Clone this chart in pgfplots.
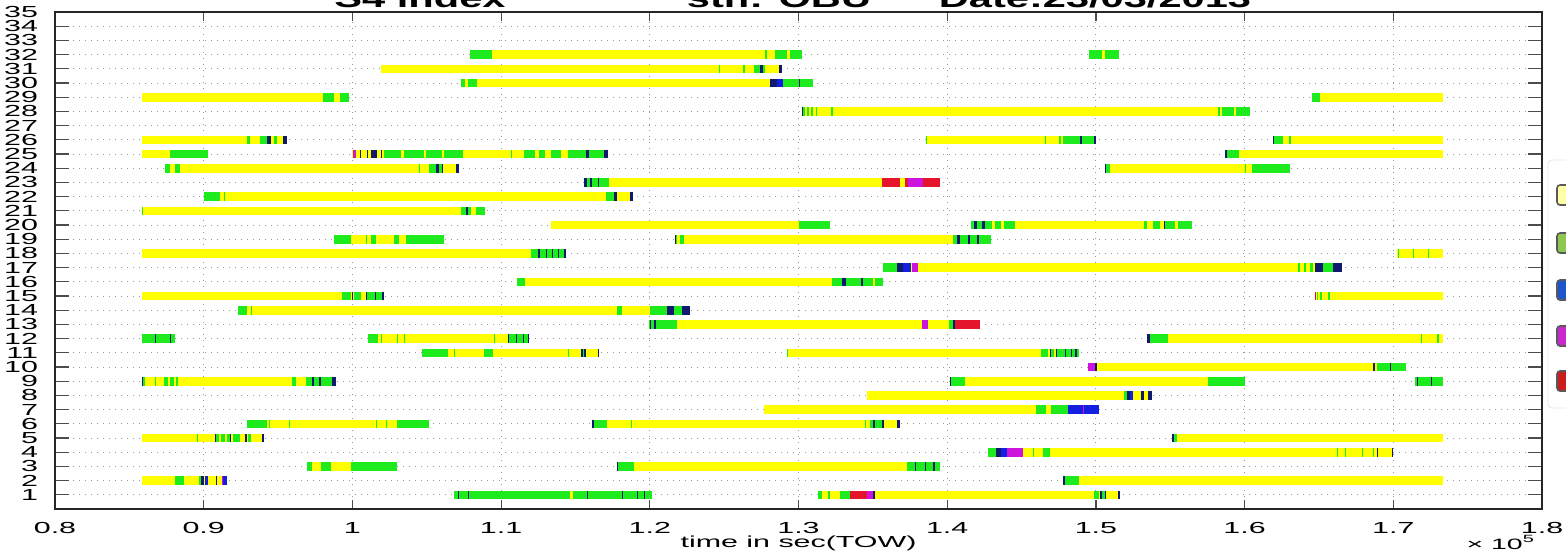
\documentclass[border=0pt]{standalone}
\usepackage{pgfplots}
\pgfplotsset{compat=1.18}
\usepackage{fontspec}
\setmainfont{Liberation Sans}
\newfontfamily\lbl{Liberation Sans}[FakeStretch=1.9]
\newfontfamily\ttl{Liberation Sans}[FakeStretch=1.6]
\definecolor{cY}{RGB}{255,255,0}
\definecolor{cG}{RGB}{30,235,30}
\definecolor{cN}{RGB}{15,25,110}
\definecolor{cB}{RGB}{20,30,225}
\definecolor{cM}{RGB}{205,20,220}
\definecolor{cR}{RGB}{228,20,45}
\definecolor{lgY}{RGB}{255,255,165}
\definecolor{lgG}{RGB}{140,200,80}
\definecolor{lgB}{RGB}{30,85,205}
\definecolor{lgM}{RGB}{200,40,205}
\definecolor{lgR}{RGB}{200,30,30}
\pgfplotsset{seg/.style={no markers, line width=4.3pt, unbounded coords=jump, line cap=butt}}
\begin{document}
\begin{tikzpicture}
\begin{axis}[
  scale only axis, width=743.5pt, height=248.5pt,
  xmin=0.8, xmax=1.8, ymin=0, ymax=35,
  xtick={0.8,0.9,1,1.1,1.2,1.3,1.4,1.5,1.6,1.7,1.8},
  ytick={1,2,...,35},
  grid=major, grid style={dash pattern=on 0.7pt off 2.3pt, gray!80, line width=0.5pt},
  tick align=inside, major tick length=7pt,
  xtick style={/pgfplots/major tick length=4.5pt},
  axis line style={line width=0.6pt, black!85},
  tick style={line width=0.6pt, black!70},
  /pgf/number format/assume math mode=true,
  ticklabel style={font=\lbl\fontsize{8}{9}\selectfont},
  xticklabel style={anchor=base, yshift=-12pt},
  yticklabel style={xshift=-5pt},
  xlabel={time in sec(TOW)},
  xlabel style={at={(axis description cs:0.5,0)}, anchor=base, yshift=-19pt, font=\lbl\fontsize{8}{10}\selectfont},
]
% yellow base
\addplot[seg, cY] coordinates {
(1.0793,32)(1.3022,32)(nan,nan)(1.4951,32)(1.5152,32)(nan,nan)
(1.0190,31)(1.2888,31)(nan,nan)
(1.0730,30)(1.3100,30)(nan,nan)
(0.8584,29)(0.9978,29)(nan,nan)(1.6450,29)(1.7336,29)(nan,nan)
(1.3022,28)(1.6037,28)(nan,nan)
(0.8584,26)(0.9560,26)(nan,nan)(1.3860,26)(1.5000,26)(nan,nan)(1.6194,26)(1.7336,26)(nan,nan)
(0.8584,25)(0.9027,25)(nan,nan)(1.0000,25)(1.1718,25)(nan,nan)(1.5870,25)(1.7336,25)(nan,nan)
(0.8740,24)(1.0720,24)(nan,nan)(1.5063,24)(1.6306,24)(nan,nan)
(1.1560,23)(1.3950,23)(nan,nan)
(0.9000,22)(1.1890,22)(nan,nan)
(0.8584,21)(1.0890,21)(nan,nan)
(1.1337,20)(1.3213,20)(nan,nan)(1.4163,20)(1.5645,20)(nan,nan)
(0.9876,19)(1.0618,19)(nan,nan)(1.2172,19)(1.4297,19)(nan,nan)
(0.8584,18)(1.1438,18)(nan,nan)(1.7022,18)(1.7336,18)(nan,nan)
(1.3570,17)(1.6653,17)(nan,nan)
(1.1106,16)(1.3570,16)(nan,nan)
(0.8584,15)(1.0213,15)(nan,nan)(1.6474,15)(1.7336,15)(nan,nan)
(0.9232,14)(1.2273,14)(nan,nan)
(1.1993,13)(1.4219,13)(nan,nan)
(0.8584,12)(0.8809,12)(nan,nan)(1.0108,12)(1.1190,12)(nan,nan)(1.5343,12)(1.7336,12)(nan,nan)
(1.0470,11)(1.1660,11)(nan,nan)(1.2922,11)(1.4883,11)(nan,nan)
(1.4950,10)(1.7088,10)(nan,nan)
(0.8584,9)(0.9888,9)(nan,nan)(1.4018,9)(1.6003,9)(nan,nan)(1.7146,9)(1.7336,9)(nan,nan)
(1.3459,8)(1.5376,8)(nan,nan)
(1.2765,7)(1.5018,7)(nan,nan)
(0.9292,6)(1.0517,6)(nan,nan)(1.1613,6)(1.3680,6)(nan,nan)
(0.8584,5)(0.9404,5)(nan,nan)(1.5510,5)(1.7336,5)(nan,nan)
(1.4275,4)(1.7000,4)(nan,nan)
(0.9697,3)(1.0303,3)(nan,nan)(1.1780,3)(1.3950,3)(nan,nan)
(0.8584,2)(0.9160,2)(nan,nan)(1.4780,2)(1.7336,2)(nan,nan)
(1.0685,1)(1.2016,1)(nan,nan)(1.3134,1)(1.5163,1)
};
% green
\addplot[seg, cG] coordinates {
(1.0793,32)(1.0937,32)(nan,nan)(1.2776,32)(1.2785,32)(nan,nan)(1.2843,32)(1.2922,32)(nan,nan)(1.2944,32)(1.3022,32)(nan,nan)(1.4951,32)(1.5040,32)(nan,nan)(1.5063,32)(1.5152,32)(nan,nan)
(1.2463,31)(1.2470,31)(nan,nan)(1.2630,31)(1.2637,31)(nan,nan)(1.2698,31)(1.2743,31)(nan,nan)(1.2760,31)(1.2772,31)(nan,nan)
(1.0730,30)(1.0760,30)(nan,nan)(1.0775,30)(1.0840,30)(nan,nan)(1.2899,30)(1.3100,30)(nan,nan)
(0.9802,29)(0.9874,29)(nan,nan)(0.9919,29)(0.9978,29)(nan,nan)(1.6450,29)(1.6506,29)(nan,nan)
(1.3028,28)(1.3045,28)(nan,nan)(1.3055,28)(1.3070,28)(nan,nan)(1.3085,28)(1.3100,28)(nan,nan)(1.3115,28)(1.3125,28)(nan,nan)(1.3220,28)(1.3235,28)(nan,nan)(1.5824,28)(1.5835,28)(nan,nan)(1.5850,28)(1.5930,28)(nan,nan)(1.5945,28)(1.6037,28)(nan,nan)
(0.9292,26)(0.9310,26)(nan,nan)(0.9380,26)(0.9427,26)(nan,nan)(0.9470,26)(0.9490,26)(nan,nan)(1.3860,26)(1.3867,26)(nan,nan)(1.4655,26)(1.4662,26)(nan,nan)(1.4755,26)(1.4762,26)(nan,nan)(1.4780,26)(1.5000,26)(nan,nan)(1.6200,26)(1.6260,26)(nan,nan)(1.6300,26)(1.6315,26)(nan,nan)
(0.8775,25)(0.9027,25)(nan,nan)(1.0213,25)(1.0330,25)(nan,nan)(1.0345,25)(1.0480,25)(nan,nan)(1.0495,25)(1.0600,25)(nan,nan)(1.0615,25)(1.0742,25)(nan,nan)(1.1067,25)(1.1072,25)(nan,nan)(1.1157,25)(1.1225,25)(nan,nan)(1.1258,25)(1.1292,25)(nan,nan)(1.1337,25)(1.1405,25)(nan,nan)(1.1449,25)(1.1718,25)(nan,nan)(1.5880,25)(1.5960,25)(nan,nan)
(0.8740,24)(0.8775,24)(nan,nan)(0.8809,24)(0.8843,24)(nan,nan)(1.0450,24)(1.0456,24)(nan,nan)(1.0517,24)(1.0562,24)(nan,nan)(1.0580,24)(1.0600,24)(nan,nan)(1.5070,24)(1.5095,24)(nan,nan)(1.6003,24)(1.6008,24)(nan,nan)(1.6048,24)(1.6306,24)(nan,nan)
(1.1575,23)(1.1600,23)(nan,nan)(1.1610,23)(1.1650,23)(nan,nan)(1.1660,23)(1.1725,23)(nan,nan)
(0.9000,22)(0.9112,22)(nan,nan)(0.9135,22)(0.9140,22)(nan,nan)(1.1703,22)(1.1758,22)(nan,nan)
(0.8584,21)(0.8590,21)(nan,nan)(1.0730,21)(1.0764,21)(nan,nan)(1.0775,21)(1.0798,21)(nan,nan)(1.0832,21)(1.0890,21)(nan,nan)
(1.3000,20)(1.3213,20)(nan,nan)(1.4163,20)(1.4180,20)(nan,nan)(1.4200,20)(1.4235,20)(nan,nan)(1.4255,20)(1.4300,20)(nan,nan)(1.4320,20)(1.4360,20)(nan,nan)(1.4380,20)(1.4454,20)(nan,nan)(1.5320,20)(1.5343,20)(nan,nan)(1.5387,20)(1.5432,20)(nan,nan)(1.5460,20)(1.5533,20)(nan,nan)(1.5555,20)(1.5645,20)(nan,nan)
(0.9876,19)(0.9989,19)(nan,nan)(1.0090,19)(1.0101,19)(nan,nan)(1.0124,19)(1.0157,19)(nan,nan)(1.0281,19)(1.0315,19)(nan,nan)(1.0360,19)(1.0618,19)(nan,nan)(1.2178,19)(1.2185,19)(nan,nan)(1.2205,19)(1.2228,19)(nan,nan)(1.4040,19)(1.4068,19)(nan,nan)(1.4085,19)(1.4138,19)(nan,nan)(1.4152,19)(1.4198,19)(nan,nan)(1.4212,19)(1.4297,19)(nan,nan)
(1.1200,18)(1.1438,18)(nan,nan)(1.7033,18)(1.7040,18)(nan,nan)(1.7133,18)(1.7140,18)(nan,nan)(1.7233,18)(1.7240,18)(nan,nan)
(1.3570,17)(1.3660,17)(nan,nan)(1.6362,17)(1.6372,17)(nan,nan)(1.6400,17)(1.6415,17)(nan,nan)(1.6440,17)(1.6462,17)(nan,nan)(1.6530,17)(1.6597,17)(nan,nan)
(1.1106,16)(1.1162,16)(nan,nan)(1.3224,16)(1.3290,16)(nan,nan)(1.3320,16)(1.3420,16)(nan,nan)(1.3435,16)(1.3500,16)(nan,nan)(1.3515,16)(1.3570,16)(nan,nan)
(0.9933,15)(0.9989,15)(nan,nan)(1.0011,15)(1.0056,15)(nan,nan)(1.0100,15)(1.0150,15)(nan,nan)(1.0160,15)(1.0200,15)(nan,nan)(1.6485,15)(1.6495,15)(nan,nan)(1.6510,15)(1.6520,15)(nan,nan)(1.6560,15)(1.6575,15)(nan,nan)
(0.9232,14)(0.9292,14)(nan,nan)(0.9315,14)(0.9320,14)(nan,nan)(1.1781,14)(1.1815,14)(nan,nan)(1.2000,14)(1.2116,14)(nan,nan)(1.2161,14)(1.2217,14)(nan,nan)
(1.1993,13)(1.2003,13)(nan,nan)(1.2010,13)(1.2030,13)(nan,nan)(1.2040,13)(1.2180,13)(nan,nan)(1.4015,13)(1.4037,13)(nan,nan)
(0.8584,12)(0.8674,12)(nan,nan)(0.8680,12)(0.8775,12)(nan,nan)(0.8780,12)(0.8809,12)(nan,nan)(1.0108,12)(1.0169,12)(nan,nan)(1.0191,12)(1.0196,12)(nan,nan)(1.0303,12)(1.0308,12)(nan,nan)(1.0348,12)(1.0353,12)(nan,nan)(1.0955,12)(1.0960,12)(nan,nan)(1.1050,12)(1.1100,12)(nan,nan)(1.1105,12)(1.1150,12)(nan,nan)(1.1155,12)(1.1180,12)(nan,nan)(1.5365,12)(1.5488,12)(nan,nan)(1.7186,12)(1.7193,12)(nan,nan)(1.7297,12)(1.7304,12)(nan,nan)
(1.0470,11)(1.0640,11)(nan,nan)(1.0685,11)(1.0690,11)(nan,nan)(1.0888,11)(1.0944,11)(nan,nan)(1.1452,11)(1.1457,11)(nan,nan)(1.1550,11)(1.1560,11)(nan,nan)(1.2922,11)(1.2930,11)(nan,nan)(1.4633,11)(1.4678,11)(nan,nan)(1.4700,11)(1.4720,11)(nan,nan)(1.4740,11)(1.4790,11)(nan,nan)(1.4800,11)(1.4830,11)(nan,nan)(1.4840,11)(1.4860,11)(nan,nan)(1.4870,11)(1.4883,11)(nan,nan)
(1.6888,10)(1.6977,10)(nan,nan)(1.6985,10)(1.7088,10)(nan,nan)
(0.8595,9)(0.8607,9)(nan,nan)(0.8674,9)(0.8680,9)(nan,nan)(0.8730,9)(0.8760,9)(nan,nan)(0.8775,9)(0.8800,9)(nan,nan)(0.8815,9)(0.8830,9)(nan,nan)(0.9596,9)(0.9618,9)(nan,nan)(0.9685,9)(0.9730,9)(nan,nan)(0.9740,9)(0.9775,9)(nan,nan)(0.9790,9)(0.9860,9)(nan,nan)(1.4025,9)(1.4119,9)(nan,nan)(1.5757,9)(1.6003,9)(nan,nan)(1.7146,9)(1.7160,9)(nan,nan)(1.7165,9)(1.7250,9)(nan,nan)(1.7260,9)(1.7336,9)(nan,nan)
(1.5190,8)(1.5208,8)(nan,nan)
(1.4600,7)(1.4667,7)(nan,nan)(1.4701,7)(1.4812,7)(nan,nan)
(0.9292,6)(0.9427,6)(nan,nan)(0.9438,6)(0.9443,6)(nan,nan)(0.9573,6)(0.9578,6)(nan,nan)(1.0157,6)(1.0162,6)(nan,nan)(1.0225,6)(1.0230,6)(nan,nan)(1.0303,6)(1.0517,6)(nan,nan)(1.1625,6)(1.1714,6)(nan,nan)(1.1874,6)(1.1880,6)(nan,nan)(1.3445,6)(1.3450,6)(nan,nan)(1.3481,6)(1.3500,6)(nan,nan)(1.3515,6)(1.3560,6)(nan,nan)
(0.8955,5)(0.8960,5)(nan,nan)(0.9085,5)(0.9100,5)(nan,nan)(0.9115,5)(0.9140,5)(nan,nan)(0.9160,5)(0.9175,5)(nan,nan)(0.9200,5)(0.9247,5)(nan,nan)(0.9300,5)(0.9320,5)(nan,nan)(1.5525,5)(1.5546,5)(nan,nan)
(1.4275,4)(1.4331,4)(nan,nan)(1.4577,4)(1.4582,4)(nan,nan)(1.4644,4)(1.4689,4)(nan,nan)(1.6619,4)(1.6625,4)(nan,nan)(1.6675,4)(1.6680,4)(nan,nan)(1.6787,4)(1.6792,4)(nan,nan)(1.6866,4)(1.6871,4)(nan,nan)
(0.9697,3)(0.9730,3)(nan,nan)(0.9787,3)(0.9854,3)(nan,nan)(0.9989,3)(1.0303,3)(nan,nan)(1.1785,3)(1.1893,3)(nan,nan)(1.3727,3)(1.3780,3)(nan,nan)(1.3790,3)(1.3850,3)(nan,nan)(1.3860,3)(1.3905,3)(nan,nan)(1.3915,3)(1.3951,3)(nan,nan)
(0.8809,2)(0.8865,2)(nan,nan)(0.8966,2)(0.8985,2)(nan,nan)(1.4790,2)(1.4883,2)(nan,nan)
(1.0685,1)(1.0708,1)(nan,nan)(1.0713,1)(1.0775,1)(nan,nan)(1.0780,1)(1.1460,1)(nan,nan)(1.1483,1)(1.1580,1)(nan,nan)(1.1585,1)(1.1814,1)(nan,nan)(1.1819,1)(1.1915,1)(nan,nan)(1.1920,1)(1.1960,1)(nan,nan)(1.1965,1)(1.2016,1)(nan,nan)(1.3134,1)(1.3160,1)(nan,nan)(1.3200,1)(1.3213,1)(nan,nan)(1.3280,1)(1.3347,1)(nan,nan)(1.4984,1)(1.5018,1)(nan,nan)(1.5040,1)(1.5060,1)
};
% navy
\addplot[seg, cN] coordinates {
(1.2743,31)(1.2760,31)(nan,nan)(1.2870,31)(1.2888,31)(nan,nan)
(1.2810,30)(1.2852,30)(nan,nan)(1.3000,30)(1.3006,30)(nan,nan)
(1.3022,28)(1.3028,28)(nan,nan)
(0.9427,26)(0.9452,26)(nan,nan)(0.9530,26)(0.9560,26)(nan,nan)(1.4895,26)(1.4905,26)(nan,nan)(1.4990,26)(1.5000,26)(nan,nan)(1.6194,26)(1.6200,26)(nan,nan)
(1.0049,25)(1.0056,25)(nan,nan)(1.0101,25)(1.0108,25)(nan,nan)(1.0123,25)(1.0168,25)(nan,nan)(1.0191,25)(1.0197,25)(nan,nan)(1.1573,25)(1.1590,25)(nan,nan)(1.1690,25)(1.1718,25)(nan,nan)(1.5870,25)(1.5880,25)(nan,nan)
(1.0562,24)(1.0580,24)(nan,nan)(1.0600,24)(1.0612,24)(nan,nan)(1.0700,24)(1.0720,24)(nan,nan)(1.5063,24)(1.5070,24)(nan,nan)
(1.1560,23)(1.1575,23)(nan,nan)(1.1600,23)(1.1610,23)(nan,nan)(1.1650,23)(1.1660,23)(nan,nan)
(1.1758,22)(1.1780,22)(nan,nan)(1.1870,22)(1.1890,22)(nan,nan)
(1.0764,21)(1.0775,21)(nan,nan)
(1.4180,20)(1.4200,20)(nan,nan)(1.4235,20)(1.4255,20)(nan,nan)(1.5455,20)(1.5460,20)(nan,nan)
(1.2172,19)(1.2178,19)(nan,nan)(1.4068,19)(1.4085,19)(nan,nan)(1.4138,19)(1.4152,19)(nan,nan)(1.4198,19)(1.4212,19)(nan,nan)
(1.1250,18)(1.1260,18)(nan,nan)(1.1300,18)(1.1310,18)(nan,nan)(1.1340,18)(1.1350,18)(nan,nan)(1.1380,18)(1.1390,18)(nan,nan)(1.1425,18)(1.1438,18)(nan,nan)
(1.3660,17)(1.3700,17)(nan,nan)(1.6470,17)(1.6530,17)(nan,nan)(1.6597,17)(1.6653,17)(nan,nan)
(1.3290,16)(1.3320,16)(nan,nan)(1.3420,16)(1.3435,16)(nan,nan)
(0.9994,15)(1.0000,15)(nan,nan)(1.0090,15)(1.0100,15)(nan,nan)(1.0150,15)(1.0160,15)(nan,nan)(1.0200,15)(1.0213,15)(nan,nan)
(1.2116,14)(1.2161,14)(nan,nan)(1.2217,14)(1.2273,14)(nan,nan)
(1.2003,13)(1.2010,13)(nan,nan)(1.2030,13)(1.2040,13)(nan,nan)(1.4037,13)(1.4050,13)(nan,nan)
(0.8674,12)(0.8680,12)(nan,nan)(0.8775,12)(0.8780,12)(nan,nan)(1.1045,12)(1.1050,12)(nan,nan)(1.1100,12)(1.1105,12)(nan,nan)(1.1150,12)(1.1155,12)(nan,nan)(1.1180,12)(1.1190,12)(nan,nan)(1.5343,12)(1.5365,12)(nan,nan)
(1.1539,11)(1.1550,11)(nan,nan)(1.1560,11)(1.1570,11)(nan,nan)(1.1650,11)(1.1660,11)(nan,nan)(1.4690,11)(1.4700,11)(nan,nan)(1.4730,11)(1.4740,11)(nan,nan)(1.4790,11)(1.4800,11)(nan,nan)(1.4830,11)(1.4840,11)(nan,nan)(1.4860,11)(1.4870,11)(nan,nan)
(1.4995,10)(1.5005,10)(nan,nan)(1.6866,10)(1.6876,10)(nan,nan)(1.6977,10)(1.6985,10)(nan,nan)
(0.8584,9)(0.8595,9)(nan,nan)(0.9730,9)(0.9740,9)(nan,nan)(0.9775,9)(0.9790,9)(nan,nan)(0.9860,9)(0.9888,9)(nan,nan)(1.4018,9)(1.4025,9)(nan,nan)(1.7160,9)(1.7165,9)(nan,nan)(1.7250,9)(1.7260,9)(nan,nan)
(1.5208,8)(1.5230,8)(nan,nan)(1.5300,8)(1.5320,8)(nan,nan)(1.5350,8)(1.5376,8)(nan,nan)
(1.1613,6)(1.1625,6)(nan,nan)(1.3500,6)(1.3515,6)(nan,nan)(1.3560,6)(1.3572,6)(nan,nan)(1.3660,6)(1.3680,6)(nan,nan)
(0.9079,5)(0.9085,5)(nan,nan)(0.9175,5)(0.9180,5)(nan,nan)(0.9281,5)(0.9292,5)(nan,nan)(0.9395,5)(0.9404,5)(nan,nan)(1.5510,5)(1.5525,5)(nan,nan)
(1.4331,4)(1.4360,4)(nan,nan)(1.6888,4)(1.6900,4)(nan,nan)(1.6988,4)(1.7000,4)(nan,nan)
(1.1780,3)(1.1785,3)(nan,nan)(1.3780,3)(1.3790,3)(nan,nan)(1.3850,3)(1.3860,3)(nan,nan)(1.3905,3)(1.3915,3)(nan,nan)
(0.8985,2)(0.9000,2)(nan,nan)(0.9080,2)(0.9090,2)(nan,nan)(1.4780,2)(1.4790,2)(nan,nan)
(1.0708,1)(1.0713,1)(nan,nan)(1.0775,1)(1.0780,1)(nan,nan)(1.1580,1)(1.1585,1)(nan,nan)(1.1814,1)(1.1819,1)(nan,nan)(1.1915,1)(1.1920,1)(nan,nan)(1.1960,1)(1.1965,1)(nan,nan)(1.3503,1)(1.3515,1)(nan,nan)(1.5029,1)(1.5040,1)(nan,nan)(1.5060,1)(1.5070,1)(nan,nan)(1.5150,1)(1.5163,1)
};
% blue
\addplot[seg, cB] coordinates {
(1.2852,30)(1.2899,30)(nan,nan)
(1.3700,17)(1.3755,17)(nan,nan)
(1.5230,8)(1.5250,8)(nan,nan)
(1.4812,7)(1.4916,7)(nan,nan)(1.4921,7)(1.5018,7)(nan,nan)
(1.4360,4)(1.4400,4)(nan,nan)
(0.9010,2)(0.9030,2)(nan,nan)(0.9130,2)(0.9160,2)
};
% magenta
\addplot[seg, cM] coordinates {
(1.0007,25)(1.0022,25)(nan,nan)
(1.3738,23)(1.3839,23)(nan,nan)
(1.3760,17)(1.3805,17)(nan,nan)
(1.3828,13)(1.3872,13)(nan,nan)
(1.4950,10)(1.4995,10)(nan,nan)
(1.4916,7)(1.4921,7)(nan,nan)
(1.4400,4)(1.4510,4)(nan,nan)
(0.9125,2)(0.9130,2)(nan,nan)
(1.3459,1)(1.3503,1)
};
% red
\addplot[seg, cR] coordinates {
(1.3559,23)(1.3682,23)(nan,nan)(1.3716,23)(1.3738,23)(nan,nan)(1.3839,23)(1.3951,23)(nan,nan)
(1.4050,13)(1.4219,13)(nan,nan)
(1.6474,15)(1.6480,15)(nan,nan)
(1.3347,1)(1.3459,1)
};
\coordinate (SW) at (rel axis cs:0,0);
\coordinate (SE) at (rel axis cs:1,0);
\coordinate (NW) at (rel axis cs:0,1);
\coordinate (NE) at (rel axis cs:1,1);
\end{axis}
% title (partly cut off by the page edge, as in the reference)
\begin{scope}[every node/.style={anchor=base, font=\ttl\bfseries\fontsize{13}{15}\selectfont}]
\node at ([xshift=182.5pt,yshift=2.5pt]NW) {S4 index};
\node at ([xshift=362pt,yshift=2.5pt]NW) {stn: OBU};
\node at ([xshift=520pt,yshift=2.5pt]NW) {Date:23/03/2013};
\end{scope}
\node[anchor=base east, font=\lbl\fontsize{7.5}{9}\selectfont] at ([xshift=0pt,yshift=-20pt]SE) {× 10\textsuperscript{5}};
% colour key at the right edge
\draw[gray!20, rounded corners=2pt] ([xshift=3pt,yshift=-74pt]NE) rectangle ([xshift=22pt,yshift=-198pt]NE);
\draw[rounded corners=1.5pt, fill=lgY, draw=black!65, line width=0.8pt] ([xshift=7.5pt,yshift=-86.5pt]NE) rectangle ([xshift=18pt,yshift=-96.5pt]NE);
\draw[rounded corners=1.5pt, fill=lgG, draw=black!65, line width=0.8pt] ([xshift=7.5pt,yshift=-110.5pt]NE) rectangle ([xshift=18pt,yshift=-120.5pt]NE);
\draw[rounded corners=1.5pt, fill=lgB, draw=black!65, line width=0.8pt] ([xshift=7.5pt,yshift=-134pt]NE) rectangle ([xshift=18pt,yshift=-144pt]NE);
\draw[rounded corners=1.5pt, fill=lgM, draw=black!65, line width=0.8pt] ([xshift=7.5pt,yshift=-157pt]NE) rectangle ([xshift=18pt,yshift=-167pt]NE);
\draw[rounded corners=1.5pt, fill=lgR, draw=black!65, line width=0.8pt] ([xshift=7.5pt,yshift=-179.5pt]NE) rectangle ([xshift=18pt,yshift=-189.5pt]NE);
\pgfresetboundingbox
\path[use as bounding box] ([xshift=-27.5pt,yshift=-21.5pt]SW) rectangle ([xshift=12pt,yshift=6pt]NE);
\end{tikzpicture}
\end{document}
